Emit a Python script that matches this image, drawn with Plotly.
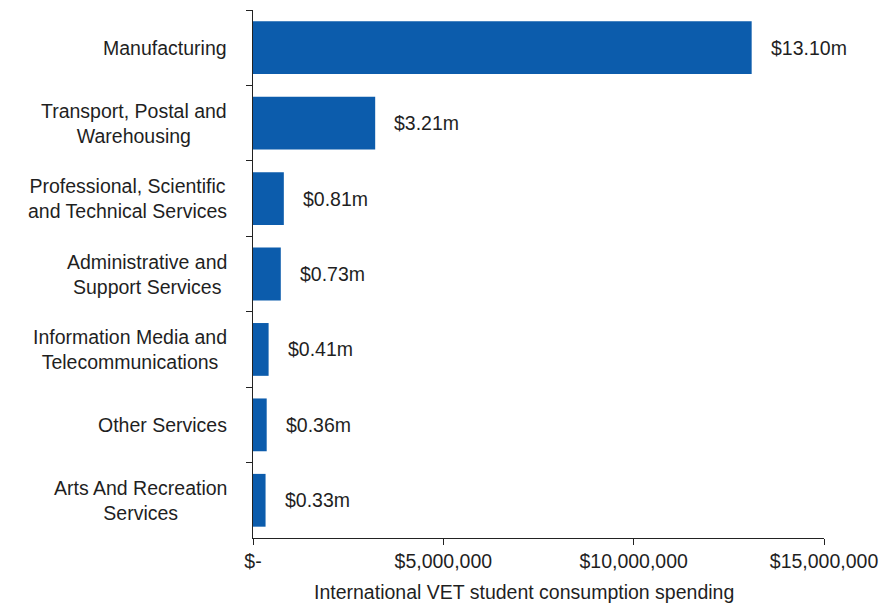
import plotly.graph_objects as go

# Consumption spending by industry (AUD)
industries = [
    "Manufacturing",
    "Transport, Postal and<br>Warehousing",
    "Professional, Scientific<br>and Technical Services",
    "Administrative and<br>Support Services",
    "Information Media and<br>Telecommunications",
    "Other Services",
    "Arts And Recreation<br>Services",
]
spending = [13_100_000, 3_210_000, 810_000, 730_000, 410_000, 360_000, 330_000]
value_labels = ["$13.10m", "$3.21m", "$0.81m", "$0.73m", "$0.41m", "$0.36m", "$0.33m"]

x_tick_vals = [0, 5_000_000, 10_000_000, 15_000_000]
x_tick_text = ["$-", "$5,000,000", "$10,000,000", "$15,000,000"]
x_title = "International VET student consumption spending"

BAR_COLOR = "#0C5CAC"
TEXT_COLOR = "#1f1f1f"
AXIS_COLOR = "#222222"
FONT = "Liberation Sans, Arial, sans-serif"
FS = 19.5

fig = go.Figure()
fig.add_trace(go.Bar(
    x=spending,
    y=industries,
    orientation="h",
    marker=dict(color=BAR_COLOR, line=dict(width=0)),
    width=0.7,
    hoverinfo="skip",
))

# Value labels to the right of each bar
for ind, val, lab in zip(industries, spending, value_labels):
    fig.add_annotation(
        x=val, y=ind, xref="x", yref="y",
        text=lab, showarrow=False,
        xanchor="left", yanchor="middle", xshift=17,
        font=dict(family=FONT, size=FS, color=TEXT_COLOR),
    )

# Category labels, lines centred within a right-aligned block
for ind in industries:
    fig.add_annotation(
        x=0, y=ind, xref="paper", yref="y",
        text=ind, showarrow=False,
        xanchor="right", yanchor="middle", xshift=-24,
        align="center",
        font=dict(family=FONT, size=FS, color=TEXT_COLOR),
    )

# X-axis title, set slightly left of the plot centre
fig.add_annotation(
    x=0.475, y=0, xref="paper", yref="paper",
    text=x_title, showarrow=False,
    xanchor="center", yanchor="top", yshift=-41,
    font=dict(family=FONT, size=FS, color=TEXT_COLOR),
)

fig.update_layout(
    width=888, height=608,
    margin=dict(l=253, r=64, t=10, b=70),
    paper_bgcolor="white",
    plot_bgcolor="white",
    showlegend=False,
    font=dict(family=FONT, size=FS, color=TEXT_COLOR),
    xaxis=dict(
        range=[0, 15_000_000],
        tickvals=x_tick_vals,
        ticktext=x_tick_text,
        ticks="outside", ticklen=6, tickcolor=AXIS_COLOR, tickwidth=1,
        showline=True, linecolor=AXIS_COLOR, linewidth=1,
        showgrid=False, zeroline=False,
        tickfont=dict(family=FONT, size=FS, color=TEXT_COLOR),
    ),
    yaxis=dict(
        type="category",
        categoryorder="array", categoryarray=industries,
        autorange="reversed",
        showticklabels=False,
        ticks="outside", ticklen=6, tickcolor=AXIS_COLOR, tickwidth=1,
        tickson="boundaries",
        showline=True, linecolor=AXIS_COLOR, linewidth=1,
        showgrid=False, zeroline=False,
    ),
)

fig.write_html("out.html")
